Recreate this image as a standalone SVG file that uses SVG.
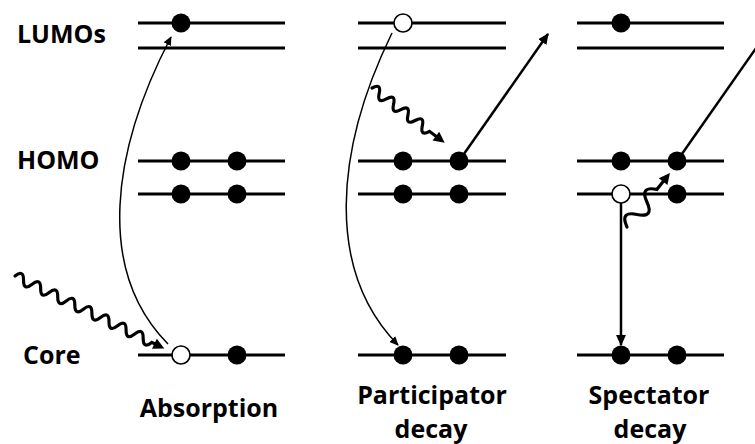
<svg xmlns="http://www.w3.org/2000/svg" width="755" height="444" viewBox="0 0 755 444">
<style>
.lvl{stroke:#000;stroke-width:3;fill:none}
.e{fill:#000}
.h{fill:#fff;stroke:#000;stroke-width:1.6}
.lbl{font-family:"Open Sans","Liberation Sans",sans-serif;font-weight:bold;font-size:25px;fill:#000}
.cap{font-family:"Open Sans","Liberation Sans",sans-serif;font-weight:bold;font-size:25px;fill:#000;text-anchor:middle}
.thin{stroke:#000;stroke-width:1.5;fill:none}
.wave{stroke:#000;stroke-width:3.2;fill:none;stroke-linecap:round}
.arr{stroke:#000;stroke-width:2.5;fill:none}
</style>
<defs>
<marker id="ms" viewBox="0 0 10 10" refX="9" refY="5" markerUnits="userSpaceOnUse" markerWidth="9" markerHeight="9" orient="auto"><path d="M0,0.5 L10,5 L0,9.5 z" fill="#000"/></marker>
<marker id="mb" viewBox="0 0 10 10" refX="9" refY="5" markerUnits="userSpaceOnUse" markerWidth="11" markerHeight="11" orient="auto"><path d="M0,0.5 L10,5 L0,9.5 z" fill="#000"/></marker>
</defs>
<g id="labels">
<text class="lbl" x="17" y="43">LUMOs</text>
<text class="lbl" x="17" y="169">HOMO</text>
<text class="lbl" x="23" y="364">Core</text>
</g>
<g id="absorption">
<line class="lvl" x1="138" y1="23" x2="285" y2="23"/>
<line class="lvl" x1="138" y1="48" x2="285" y2="48"/>
<line class="lvl" x1="138" y1="161" x2="285" y2="161"/>
<line class="lvl" x1="138" y1="194" x2="285" y2="194"/>
<line class="lvl" x1="138" y1="355" x2="285" y2="355"/>
<circle class="e" cx="181" cy="23" r="9.5"/>
<circle class="e" cx="181" cy="161" r="9.5"/>
<circle class="e" cx="237" cy="161" r="9.5"/>
<circle class="e" cx="181" cy="194" r="9.5"/>
<circle class="e" cx="237" cy="194" r="9.5"/>
<circle class="h" cx="181" cy="355" r="9"/>
<circle class="e" cx="237" cy="355" r="9.5"/>
<text class="cap" x="209" y="417">Absorption</text>
</g>
<g id="participator">
<line class="lvl" x1="358" y1="23" x2="506" y2="23"/>
<line class="lvl" x1="358" y1="48" x2="506" y2="48"/>
<line class="lvl" x1="358" y1="161" x2="506" y2="161"/>
<line class="lvl" x1="358" y1="194" x2="506" y2="194"/>
<line class="lvl" x1="358" y1="355" x2="506" y2="355"/>
<circle class="h" cx="403" cy="23" r="9"/>
<circle class="e" cx="403" cy="161" r="9.5"/>
<circle class="e" cx="459" cy="161" r="9.5"/>
<circle class="e" cx="403" cy="194" r="9.5"/>
<circle class="e" cx="459" cy="194" r="9.5"/>
<circle class="e" cx="403" cy="355" r="9.5"/>
<circle class="e" cx="459" cy="355" r="9.5"/>
<text class="cap" x="432" y="404">Participator</text>
<text class="cap" x="431" y="438">decay</text>
</g>
<g id="spectator">
<line class="lvl" x1="577" y1="23" x2="724" y2="23"/>
<line class="lvl" x1="577" y1="48" x2="724" y2="48"/>
<line class="lvl" x1="577" y1="161" x2="724" y2="161"/>
<line class="lvl" x1="577" y1="194" x2="724" y2="194"/>
<line class="lvl" x1="577" y1="355" x2="724" y2="355"/>
<circle class="e" cx="621" cy="23" r="9.5"/>
<circle class="e" cx="621" cy="161" r="9.5"/>
<circle class="e" cx="677" cy="161" r="9.5"/>
<circle class="e" cx="677" cy="194" r="9.5"/>
<circle class="e" cx="621" cy="355" r="9.5"/>
<circle class="e" cx="677" cy="355" r="9.5"/>
<text class="cap" x="649" y="404">Spectator</text>
<text class="cap" x="650" y="438">decay</text>
</g>
<g id="connectors">
<path class="thin" d="M168,344 C95,270 112,150 171,37" marker-end="url(#ms)"/>
<path class="thin" d="M392,33 C335,150 325,270 398,345" marker-end="url(#ms)"/>
<line class="arr" x1="459" y1="161" x2="548" y2="34" marker-end="url(#mb)"/>
<line class="arr" x1="677" y1="161" x2="766" y2="34"/>
<line class="arr" x1="621" y1="203" x2="621" y2="345" marker-end="url(#mb)"/>
<g transform="translate(15,276) rotate(25.9)">
<path class="wave" d="M0,0 q4.75,-10 9.5,0 t9.5,0 t9.5,0 t9.5,0 t9.5,0 t9.5,0 t9.5,0 t9.5,0 t9.5,0 t9.5,0 t9.5,0 t9.5,0 t9.5,0 t9.5,0 t9.5,0 t9.5,0 L158,0"/>
<path d="M166,0 L155,-5.5 L155,5.5 z" fill="#000"/>
</g>
<g transform="translate(372,88) rotate(37)">
<path class="wave" d="M0,0 q4.5,-10 9,0 t9,0 t9,0 t9,0 t9,0 t9,0 t9,0 t9,0 L83,0"/>
<path d="M91,0 L80,-5.5 L80,5.5 z" fill="#000"/>
</g>
<circle class="h" cx="621" cy="194" r="9"/>
<g transform="translate(627,227) rotate(-51.5)">
<path class="wave" d="M0,0 q8,-16 16,0 t16,0 t16,0 L60,0"/>
<path d="M69,0 L58,-5.5 L58,5.5 z" fill="#000"/>
</g>
</g>
</svg>
